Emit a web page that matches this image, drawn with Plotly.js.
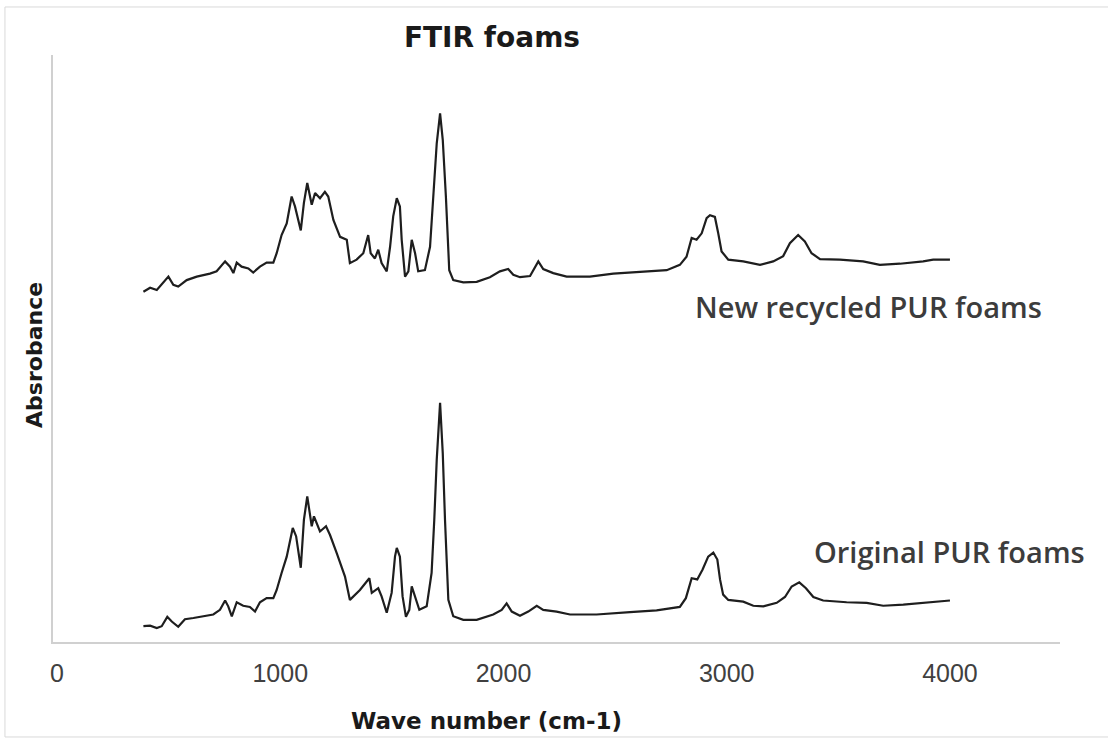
<!DOCTYPE html>
<html>
<head>
<meta charset="utf-8">
<script src="https://cdn.plot.ly/plotly-3.0.1.min.js"></script>
<style>
  html, body { margin: 0; padding: 0; background: #ffffff; }
  #chart { width: 1108px; height: 740px; }
</style>
</head>
<body>
<div id="chart"></div>
<script>
// Wave numbers (cm-1) and absorbance (arbitrary units)
const newX = [387,417,447,475,499,521,543,581,626,685,
  715,753,775,790,805,827,857,879,909,939,
  969,984,1006,1029,1051,1066,1092,1106,1121,1141,
  1156,1178,1200,1215,1238,1268,1298,1312,1342,1372,
  1394,1405,1424,1439,1454,1477,1492,1506,1522,1536,
  1544,1559,1574,1589,1604,1618,1648,1671,1689,1701,
  1716,1728,1742,1757,1775,1820,1880,1939,1984,2021,
  2044,2074,2119,2141,2156,2178,2223,2283,2387,2492,
  2641,2731,2790,2820,2843,2865,2888,2910,2925,2947,
  2962,2977,3007,3074,3149,3208,3253,3283,3320,3350,
  3380,3418,3507,3611,3686,3776,3880,3925,4000];
const newY = [0.595,0.602,0.598,0.610,0.621,0.607,0.604,0.615,0.621,0.626,
  0.630,0.647,0.638,0.627,0.645,0.638,0.635,0.628,0.638,0.645,
  0.645,0.661,0.692,0.712,0.758,0.741,0.700,0.747,0.781,0.744,
  0.764,0.755,0.766,0.758,0.718,0.689,0.684,0.644,0.650,0.661,
  0.692,0.661,0.652,0.667,0.644,0.630,0.672,0.724,0.755,0.741,
  0.684,0.621,0.630,0.684,0.661,0.630,0.632,0.672,0.786,0.849,
  0.900,0.855,0.758,0.632,0.615,0.611,0.612,0.620,0.630,0.634,
  0.624,0.620,0.622,0.637,0.647,0.634,0.627,0.621,0.621,0.626,
  0.630,0.632,0.641,0.655,0.687,0.684,0.695,0.721,0.726,0.723,
  0.695,0.664,0.650,0.647,0.641,0.647,0.656,0.678,0.692,0.681,
  0.661,0.651,0.650,0.647,0.641,0.643,0.647,0.650,0.650];

const origX = [387,417,447,469,494,514,543,573,611,655,
  700,730,753,767,783,805,834,864,887,909,
  939,969,984,1006,1029,1056,1071,1092,1106,1121,
  1141,1151,1178,1205,1223,1253,1290,1312,1357,1399,
  1410,1439,1454,1477,1499,1514,1522,1536,1548,1563,
  1578,1589,1604,1623,1656,1678,1690,1701,1716,1728,
  1738,1753,1775,1820,1880,1954,1992,2014,2037,2074,
  2111,2149,2178,2238,2298,2417,2567,2686,2790,2817,
  2843,2868,2892,2917,2940,2958,2970,2984,3007,3074,
  3119,3164,3224,3261,3291,3325,3355,3388,3432,3537,
  3627,3701,3791,3895,3955,4000];
const origY = [0.023,0.024,0.020,0.023,0.039,0.031,0.022,0.035,0.037,0.040,
  0.043,0.051,0.067,0.057,0.040,0.064,0.058,0.056,0.048,0.064,
  0.071,0.071,0.085,0.114,0.142,0.191,0.177,0.123,0.205,0.245,
  0.194,0.211,0.185,0.194,0.179,0.148,0.108,0.068,0.085,0.105,
  0.080,0.088,0.074,0.046,0.080,0.142,0.157,0.142,0.074,0.039,
  0.051,0.091,0.074,0.051,0.057,0.114,0.205,0.308,0.405,0.319,
  0.205,0.068,0.040,0.034,0.034,0.043,0.051,0.062,0.048,0.041,
  0.048,0.058,0.051,0.048,0.043,0.043,0.047,0.050,0.056,0.071,
  0.105,0.103,0.120,0.142,0.149,0.137,0.103,0.077,0.068,0.065,
  0.058,0.057,0.063,0.073,0.091,0.098,0.088,0.073,0.067,0.064,
  0.063,0.058,0.060,0.063,0.065,0.067];

const xTicks = [0, 1000, 2000, 3000, 4000];
const seriesNames = ["New recycled PUR foams", "Original PUR foams"];
const chartTitle = "FTIR foams";
const xTitle = "Wave number (cm-1)";
const yTitle = "Absrobance";

const lineStyle = { color: "#1e1e1e", width: 2.2 };
const traces = [
  { x: newX, y: newY, type: "scatter", mode: "lines", name: seriesNames[0], line: lineStyle, showlegend: false },
  { x: origX, y: origY, type: "scatter", mode: "lines", name: seriesNames[1], line: lineStyle, showlegend: false }
];

const layout = {
  width: 1108, height: 740,
  margin: { l: 53, r: 48, t: 55, b: 98 },
  paper_bgcolor: "#ffffff", plot_bgcolor: "#ffffff",
  showlegend: false,
  title: {
    text: chartTitle,
    font: { family: "DejaVu Sans, Arial, sans-serif", size: 28, color: "#1a1a1a", weight: "bold" },
    x: 0.444, xref: "container", xanchor: "center",
    y: 0.95, yref: "container", yanchor: "middle"
  },
  xaxis: {
    range: [-18, 4493],
    tickvals: xTicks, ticktext: xTicks.map(String),
    showline: true, linecolor: "#d0d0d0", linewidth: 2,
    showgrid: false, zeroline: false,
    ticks: "outside", ticklen: 8, tickcolor: "rgba(0,0,0,0)",
    tickfont: { family: "Liberation Sans, Arial, sans-serif", size: 25, color: "#404040" }
  },
  yaxis: {
    range: [-0.004, 1.0],
    showticklabels: false, ticks: "",
    showline: true, linecolor: "#d0d0d0", linewidth: 2,
    showgrid: false, zeroline: false
  },
  annotations: [
    { text: xTitle, xref: "paper", yref: "paper", x: 0.43, y: -0.1346, xanchor: "center", yanchor: "middle",
      showarrow: false, font: { family: "DejaVu Sans, Arial, sans-serif", size: 23, color: "#1a1a1a", weight: "bold" } },
    { text: yTitle, xref: "paper", yref: "paper", x: -0.0179, y: 0.489, xanchor: "center", yanchor: "middle",
      textangle: -90, showarrow: false,
      font: { family: "DejaVu Sans, Arial, sans-serif", size: 22, color: "#1a1a1a", weight: "bold" } },
    { text: seriesNames[0], xref: "paper", yref: "paper", x: 0.8103, y: 0.5724, xanchor: "center", yanchor: "middle",
      showarrow: false, font: { family: "Open Sans, sans-serif", size: 29, color: "#3c3c3c", weight: 600 } },
    { text: seriesNames[1], xref: "paper", yref: "paper", x: 0.8898, y: 0.155, xanchor: "center", yanchor: "middle",
      showarrow: false, font: { family: "Open Sans, sans-serif", size: 29, color: "#3c3c3c", weight: 600 } }
  ],
  shapes: [
    { type: "rect", xref: "paper", yref: "paper", x0: -0.0477, x1: 1.06, y0: -0.1618, y1: 1.0818,
      line: { color: "#d9d9d9", width: 1 }, fillcolor: "rgba(0,0,0,0)", layer: "below" }
  ]
};

Plotly.newPlot("chart", traces, layout, { displayModeBar: false, staticPlot: true });
</script>
</body>
</html>
